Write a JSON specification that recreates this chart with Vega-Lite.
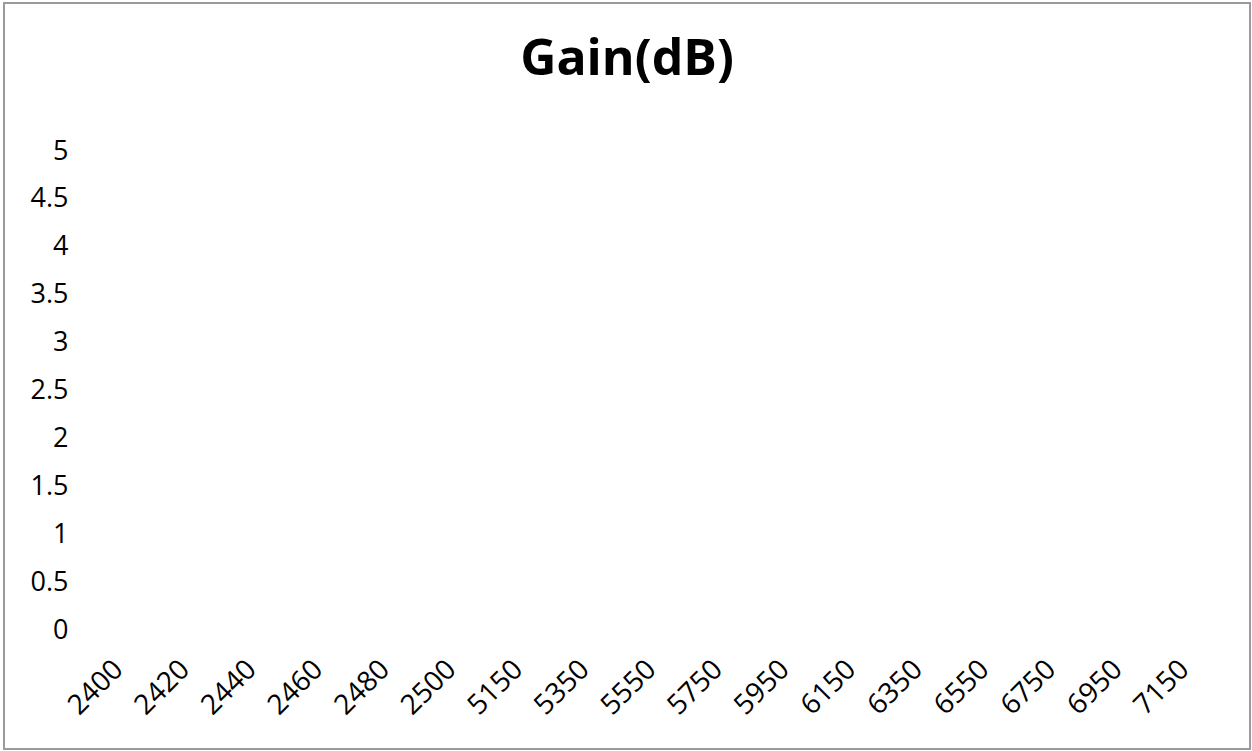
{
  "$schema": "https://vega.github.io/schema/vega-lite/v6.json",
  "width": 1246,
  "height": 746,
  "padding": {"left": 4, "top": 3, "right": 2, "bottom": 2},
  "autosize": {"type": "none"},
  "background": "white",
  "title": {
    "text": "Gain(dB)",
    "font": "Open Sans",
    "fontSize": 50,
    "fontWeight": "bold",
    "color": "#000000",
    "anchor": "middle",
    "baseline": "alphabetic",
    "offset": -88,
    "dy": 34
  },
  "data": {
    "values": [
      {"freq": "2400", "gain": null},
      {"freq": "2420", "gain": null},
      {"freq": "2440", "gain": null},
      {"freq": "2460", "gain": null},
      {"freq": "2480", "gain": null},
      {"freq": "2500", "gain": null},
      {"freq": "5150", "gain": null},
      {"freq": "5350", "gain": null},
      {"freq": "5550", "gain": null},
      {"freq": "5750", "gain": null},
      {"freq": "5950", "gain": null},
      {"freq": "6150", "gain": null},
      {"freq": "6350", "gain": null},
      {"freq": "6550", "gain": null},
      {"freq": "6750", "gain": null},
      {"freq": "6950", "gain": null},
      {"freq": "7150", "gain": null}
    ]
  },
  "mark": {"type": "line", "color": "#4472C4", "strokeWidth": 2.5},
  "encoding": {
    "x": {
      "field": "freq",
      "type": "ordinal",
      "sort": null,
      "bandPosition": 0.5,
      "scale": {"type": "band", "paddingInner": 0, "paddingOuter": 0.851, "align": 0.632},
      "axis": {
        "title": null,
        "labelAngle": -45,
        "labelFont": "Open Sans",
        "labelFontSize": 28,
        "labelColor": "#000000",
        "ticks": false,
        "domain": false,
        "grid": false,
        "labelPadding": 0,
        "offset": -94
      }
    },
    "y": {
      "field": "gain",
      "type": "quantitative",
      "scale": {"domain": [-1.242, 6.545], "nice": false, "zero": false},
      "axis": {
        "title": null,
        "values": [0, 0.5, 1, 1.5, 2, 2.5, 3, 3.5, 4, 4.5, 5],
        "format": ".1~f",
        "labelFont": "Open Sans",
        "labelFontSize": 27,
        "labelColor": "#000000",
        "ticks": false,
        "domain": false,
        "grid": false,
        "labelPadding": 0,
        "offset": -64
      }
    }
  },
  "config": {
    "view": {"stroke": "#9a9a9a", "strokeWidth": 2}
  }
}
